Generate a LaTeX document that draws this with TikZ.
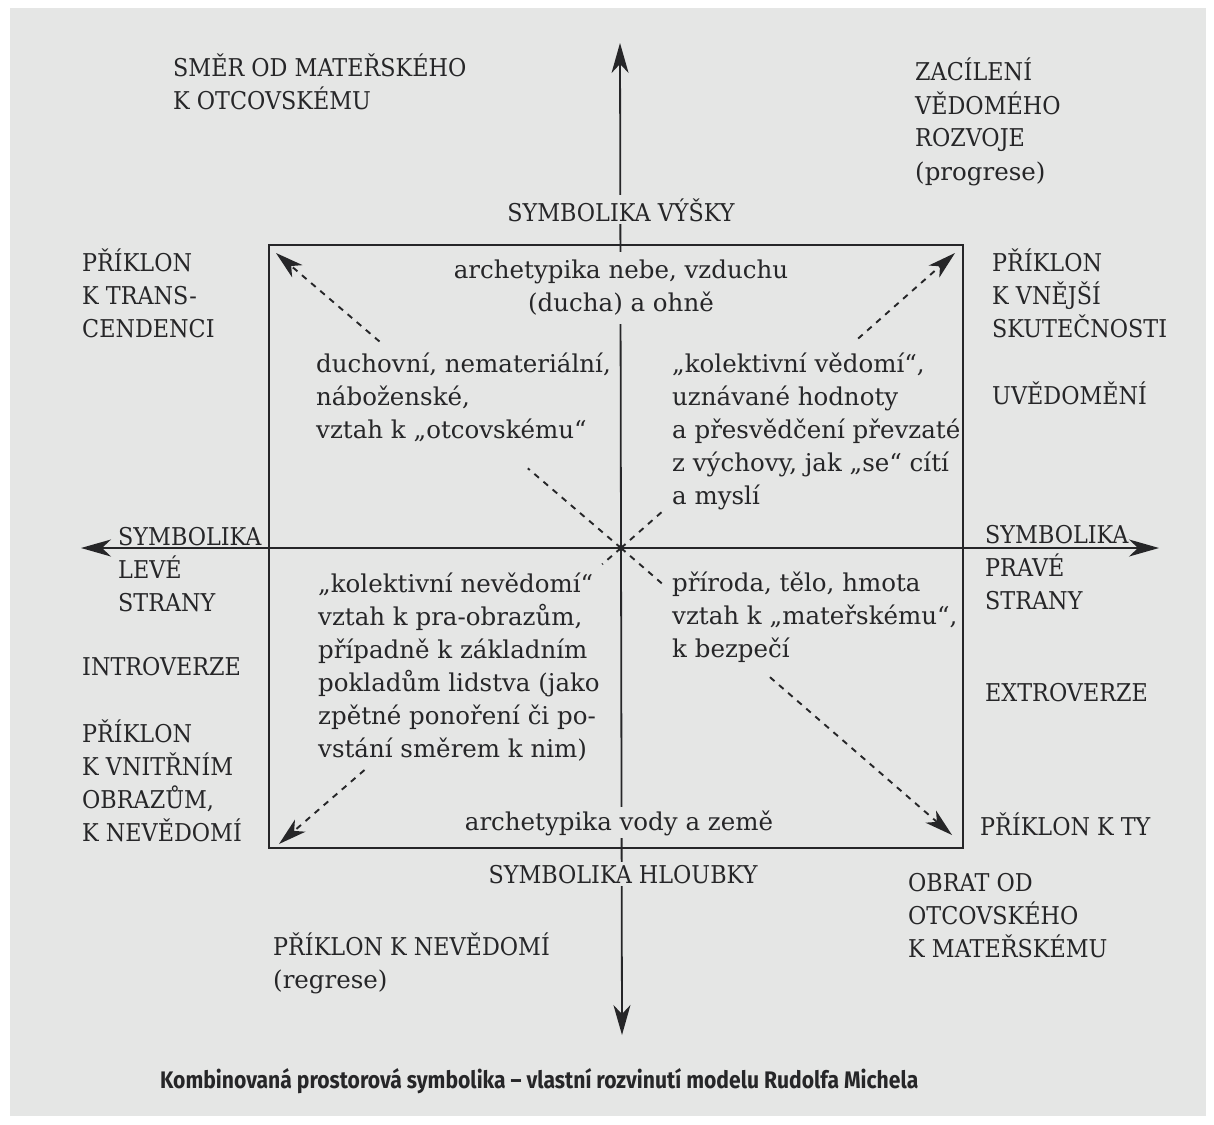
\documentclass[tikz,border=0pt]{standalone}
\usepackage{fontspec}
\setmainfont{DejaVu Serif}
\newfontfamily\capsfont{DejaVu Serif}[FakeStretch=0.91]
\newfontfamily\capfont{Fira Sans}
\usetikzlibrary{arrows.meta,calc}
\newcommand\ml[1]{\begin{tabular}[t]{@{}l@{}}#1\end{tabular}}
\newcommand\mc[1]{\begin{tabular}[t]{@{}c@{}}#1\end{tabular}}
\definecolor{paper}{RGB}{229,230,229}
\definecolor{ink}{RGB}{38,38,40}
\begin{document}
\begin{tikzpicture}[x=1pt,y=-1pt,
  txt/.style={inner sep=0pt,text=ink,font=\fontsize{24.5}{33}\selectfont},
  capstxt/.style={txt,font=\fontsize{24.5}{33}\selectfont\capsfont},
  mask/.style={fill=paper,inner xsep=1pt,inner ysep=3pt},
  axis/.style={draw=ink,line width=1.8pt,-{Stealth[length=30pt,width=17pt,inset=9pt]}},
  dashline/.style={draw=ink,line width=1.9pt,dash pattern=on 6pt off 6pt},
  dasharrow/.style={dashline,-{Stealth[length=28pt,width=16pt,inset=8pt]}}]
\useasboundingbox (0,0) rectangle (1214,1124);
\fill[white] (0,0) rectangle (1214,1124);
\fill[paper] (10,8) rectangle (1206,1116);
% axes
\coordinate (c) at (621,548);
\coordinate (top) at (620,43);
\coordinate (bot) at (622,1035);
\coordinate (lft) at (81,548);
\coordinate (rgt) at (1159,548);
\draw[axis] (c) -- (top);
\draw[axis] (c) -- (bot);
\draw[axis] (c) -- (lft);
\draw[axis] (c) -- (rgt);
\fill[ink] (c) circle (3pt);
% frame
\draw[ink,line width=1.8pt] (269,245) rectangle (963,848);
% diagonal arrows
\coordinate (ul) at (276,253);
\coordinate (ur) at (955,253);
\coordinate (ll) at (279,844);
\coordinate (lr) at (952,835);
\draw[dashline] (c) -- ($(c)!0.27!(ul)$);
\draw[dasharrow] ($(c)!0.70!(ul)$) -- (ul);
\draw[dashline] (c) -- ($(c)!0.125!(ur)$);
\draw[dasharrow] ($(c)!0.71!(ur)$) -- (ur);
\draw[dashline] (c) -- ($(c)!0.055!(ll)$);
\draw[dasharrow] ($(c)!0.75!(ll)$) -- (ll);
\draw[dashline] (c) -- ($(c)!0.127!(lr)$);
\draw[dasharrow] ($(c)!0.45!(lr)$) -- (lr);
% outer texts
\node[capstxt,anchor=base west] (smer) at (173,76) {\ml{SMĚR OD MATEŘSKÉHO\\K OTCOVSKÉMU}};
\node[capstxt,anchor=base west] (zac) at (915,81) {\ml{ZACÍLENÍ\\VĚDOMÉHO\\ROZVOJE\\\normalfont(progrese)}};
\node[capstxt,mask,anchor=base] (vys) at (621,221) {SYMBOLIKA VÝŠKY};
\node[capstxt,anchor=base west] (trans) at (82,271) {\ml{PŘÍKLON\\K TRANS-\\CENDENCI}};
\node[capstxt,anchor=base west] (vnej) at (992,271) {\ml{PŘÍKLON\\K VNĚJŠÍ\\SKUTEČNOSTI}};
\node[capstxt,anchor=base west] (uved) at (992,404) {UVĚDOMĚNÍ};
\node[capstxt,anchor=base west] (lev) at (118,545) {\ml{SYMBOLIKA\\LEVÉ\\STRANY}};
\node[capstxt,anchor=base west] (prav) at (985,543) {\ml{SYMBOLIKA\\PRAVÉ\\STRANY}};
\node[capstxt,anchor=base west] (intro) at (82,675) {INTROVERZE};
\node[capstxt,anchor=base west] (vnitr) at (82,742) {\ml{PŘÍKLON\\K VNITŘNÍM\\OBRAZŮM,\\K NEVĚDOMÍ}};
\node[capstxt,anchor=base west] (extro) at (985,701) {EXTROVERZE};
\node[capstxt,anchor=base west] (ty) at (980,835) {PŘÍKLON K TY};
\node[capstxt,mask,anchor=base] (hloub) at (623,883) {SYMBOLIKA HLOUBKY};
\node[capstxt,anchor=base west] (obrat) at (908,891) {\ml{OBRAT OD\\OTCOVSKÉHO\\K MATEŘSKÉMU}};
\node[capstxt,anchor=base west] (nev) at (273,955) {\ml{PŘÍKLON K NEVĚDOMÍ\\\normalfont(regrese)}};
% inner texts
\node[txt,mask,anchor=base] (nebe) at (621,278) {\mc{archetypika nebe, vzduchu\\(ducha) a ohně}};
\node[txt,anchor=base west] (duch) at (316,372) {\ml{duchovní, nemateriální,\\náboženské,\\vztah k „otcovskému“}};
\node[txt,anchor=base west] (kolv) at (672,372) {\ml{„kolektivní vědomí“,\\uznávané hodnoty\\a přesvědčení převzaté\\z výchovy, jak „se“ cítí\\a myslí}};
\node[txt,anchor=base west] (koln) at (318,592) {\ml{„kolektivní nevědomí“\\vztah k pra-obrazům,\\případně k základním\\pokladům lidstva (jako\\zpětné ponoření či po-\\vstání směrem k nim)}};
\node[txt,anchor=base west] (prir) at (672,591) {\ml{příroda, tělo, hmota\\vztah k „mateřskému“,\\k bezpečí}};
\node[txt,mask,anchor=base] (voda) at (619,830) {archetypika vody a země};
% caption
\node[inner sep=0pt,anchor=base west,text=ink] (capt) at (160,1088) {\resizebox{758pt}{20pt}{\capfont\bfseries Kombinovaná prostorová symbolika – vlastní rozvinutí modelu Rudolfa Michela}};
\end{tikzpicture}
\end{document}
